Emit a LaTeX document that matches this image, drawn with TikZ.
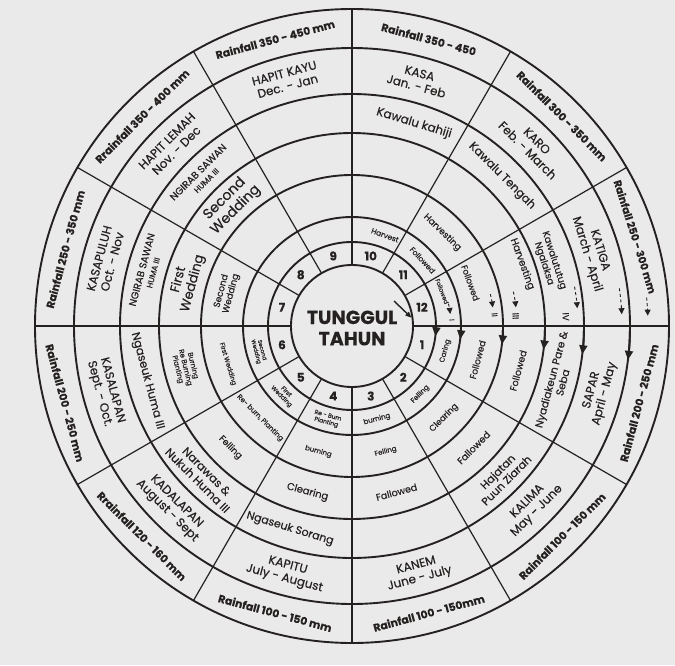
\documentclass[tikz,border=0pt]{standalone}
\usepackage{fontspec}
\setmainfont{Poppins}[FakeBold=0.35]
\usetikzlibrary{arrows.meta}
\definecolor{ink}{RGB}{38,33,33}
\definecolor{paper}{RGB}{234,234,234}
\newcommand{\fsz}[1]{\fontsize{#1}{\fpeval{1.12*#1}}\selectfont}
\tikzset{
  ringline/.style={draw=ink, line width=1.9pt},
  spoke/.style={draw=ink, line width=1.2pt},
  lbl/.style={text=ink, align=center, inner sep=0pt},
  tang/.style={rotate={ifthenelse(#1<180,#1-90,#1+90)}},
  flow/.style={draw=ink, line width=0.9pt, dash pattern=on 3pt off 2.5pt, -{Triangle[length=6pt,width=6pt]}},
  turn/.style={draw=ink, line width=1.9pt, -{Triangle[length=9pt,width=8pt]}},
  pointer/.style={draw=ink, line width=1.4pt, -{Triangle[length=6pt,width=5pt]}},
}

\begin{document}
\begin{tikzpicture}[x=1pt, y=1pt]
  % Page
  \fill[paper] (-352,-339) rectangle (323,326);
  \useasboundingbox (-352,-339) rectangle (323,326);

  % Rings and spokes
  \foreach \r in {61,84,109,151,193,232,278,317}
    \draw[ringline] (0,0) circle[radius=\r];
  \foreach \a in {0,30,...,330}
    \draw[spoke] (\a:61) -- (\a:317);

  % Arrow heads where the arcs cross into the new year
  \foreach \r in {84,109,151,193,232,278}
    \draw[turn] (0:\r) arc[start angle=0, end angle=-7, radius=\r];

  % Centre
  \node[lbl, font=\bfseries\fsz{19}] (tahun) at (0,-2) {TUNGGUL\\TAHUN};
  \coordinate (ptr) at (42,25);
  \coordinate (tip12) at (8:60);
  \draw[pointer] (ptr) -- (tip12);

  % Month numbers
  \foreach \n in {1,...,12}
    \node[lbl, font=\bfseries\fsz{12}] (num-\n) at ({375-30*\n}:72.5) {\n};

  % Rainfall ring
  \foreach \a/\t [count=\i] in {75/{Rainfall 350 - 450}, 45/{Rainfall 300 - 350 mm},
      345/{Rainfall 200 - 250 mm}, 315/{Rainfall 100 - 150 mm}, 285/{Rainfall 100 - 150mm},
      255/{Rainfall 100 - 150 mm}, 225/{Rrainfall 120 - 160 mm}, 195/{Rainfall 200 - 250 mm},
      165/{Rainfall 250 - 350 mm}, 135/{Rrainfall 350 - 400 mm}, 105/{Rainfall 350 - 450 mm}}
    \node[lbl, tang=\a, font=\bfseries\fsz{10.8}] (rain-\i) at (\a:297) {\t};
  \node[lbl, tang=17.5, font=\bfseries\fsz{10.5}] (rain-0) at (17.5:297) {Rainfall 250 - 300 mm};

  % Month ring
  \foreach \a/\t [count=\i] in {75/{KASA\\Jan. - Feb}, 45/{KARO\\Feb. - March},
      345/{SAPAR\\April - May}, 315/{KALIMA\\May - June}, 285/{KANEM\\June - July},
      255/{KAPITU\\July - August}, 225/{KADALAPAN\\August - Sept}, 195/{KASALAPAN\\Sept. - Oct.},
      165/{KASAPULUH\\Oct. - Nov}, 135/{HAPIT LEMAH\\Nov. - Dec}, 105/{HAPIT KAYU\\Dec. - Jan}}
    \node[lbl, tang=\a, font=\fsz{12}] (month-\i) at (\a:255) {\t};
  \node[lbl, tang=17, font=\fsz{12}] (month-0) at (17:252) {KATIGA\\March - April};

  % Activities, ring 4
  \foreach \a/\s/\t [count=\i] in {73/12/{Kawalu kahiji}, 45/11.5/{Kawalu Tengah},
      345/10.5/{Nyadiakeun Pare \&\\Seba}, 315/11/{Hajatan\\Puun Ziarah}, 253/11/{Ngaseuk Sorang},
      225/11.5/{Narawas \&\\Nukuh Huma III}, 195/11.5/{Ngaseuk Huma III},
      165/10/{NGIRAB SAWAN\\{\fsz{8}HUMA III}}, 135/10/{NGIRAB SAWAN\\{\fsz{8}HUMA III}}}
    \node[lbl, tang=\a, font=\fsz{\s}] (act4-\i) at (\a:212) {\t};
  \node[lbl, tang=18, font=\fsz{9.5}] (act4-0) at (18:207) {Kawalututug\\Ngalaksa};

  % Activities, ring 3
  \foreach \a/\s/\t [count=\i] in {345/9.5/{Followed}, 315/9.5/{Fallowed}, 285/9.5/{Fallowed},
      255/10/{Clearing}, 225/9/{Felling}, 194/7/{Burning\\Re Burning\\Planting},
      165/13/{First\\Wedding}, 135/14/{Second\\Wedding}}
    \node[lbl, tang=\a, font=\fsz{\s}] (act3-\i) at (\a:172) {\t};
  \node[lbl, tang=20, font=\fsz{10}] (act3-0) at (20:181) {Harvesting};

  % Activities, ring 2
  \foreach \a/\s/\t [count=\i] in {46/9/{Harvesting}, 345/9/{Followed}, 315/8.5/{Clearing},
      285/7/{Felling}, 255/7/{burning}, 225/7/{Re- burn, Planting},
      197/6.5/{First Wedding}, 165/9/{Second\\Wedding}}
    \node[lbl, tang=\a, font=\fsz{\s}] (act2-\i) at (\a:130) {\t};
  \node[lbl, tang=20, font=\fsz{8.5}] (act2-0) at (20:126) {Followed};

  % Activities, ring 1
  \foreach \a/\s/\t [count=\i] in {70/7.5/{Harvest}, 43/7.5/{Followed}, 345/7/{Caring},
      315/7/{Felling}, 285/7/{burning}, 255/6/{Re - Burn\\Planting},
      225/6/{First\\Wedding}, 195/5.5/{Second\\Wedding}}
    \node[lbl, tang=\a, font=\fsz{\s}] (act1-\i) at (\a:96.5) {\t};
  \node[lbl, tang=21, font=\fsz{6}] (act1-0) at (21:96.5) {Followed};

  % Carried over past the year's end
  \draw[flow] (13:99) arc[start angle=13, end angle=7, radius=99];
  \draw[flow] (13:142) arc[start angle=13, end angle=7.5, radius=142];
  \draw[flow] (12:165) arc[start angle=12, end angle=6.5, radius=165];
  \draw[flow] (10:226) arc[start angle=10, end angle=4.5, radius=226];
  \draw[flow] (8:270) arc[start angle=8, end angle=2.5, radius=270];
  \draw[flow] (5.5:296) arc[start angle=5.5, end angle=2, radius=296];
  \node[lbl, tang=3.5, font=\fsz{7}] (stage-1) at (3.5:100) {I};
  \node[lbl, tang=4.5, font=\fsz{8}] (stage-2) at (4.5:143) {II};
  \node[lbl, tang=3.5, font=\fsz{9}] (stage-3) at (3.5:164) {III};
  \node[lbl, tang=2.5, font=\fsz{9}] (stage-4) at (2.5:214) {IV};
\end{tikzpicture}
\end{document}
